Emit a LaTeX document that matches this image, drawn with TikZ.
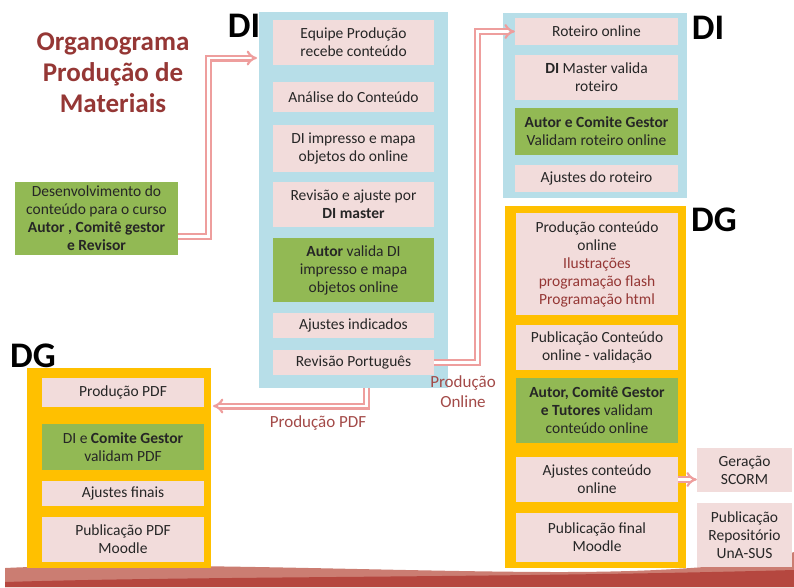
\documentclass[tikz,border=0pt]{standalone}
\usepackage{fontspec}
\setmainfont{Carlito}
\usepackage{tikz}
\usetikzlibrary{shapes}
\usetikzlibrary{arrows}
\definecolor{colblue}{HTML}{B7DEE8}
\definecolor{boxpink}{HTML}{F2DCDB}
\definecolor{boxgreen}{HTML}{92B954}
\definecolor{colorange}{HTML}{FFC000}
\definecolor{titlered}{HTML}{953735}
\definecolor{labelred}{HTML}{A34A48}
\definecolor{flowpink}{HTML}{EE9E9D}
\definecolor{bandlight}{HTML}{CB7D72}
\definecolor{banddark}{HTML}{B5473F}
\tikzset{
  pink node/.style={rectangle,fill=boxpink,align=center,inner sep=0pt,
    text=black!85,font=\fontsize{15.5}{18}\selectfont},
  green node/.style={pink node,fill=boxgreen},
  column/.style={rectangle,inner sep=0pt},
  big label/.style={font=\fontsize{36}{36}\selectfont\bfseries},
  flow label/.style={align=center,text=labelred,font=\fontsize{17}{20}\selectfont},
  flow/.style={draw=flowpink,line width=2.2pt,double=white,double distance=2.6pt}
}

\begin{document}
\begin{tikzpicture}[x=1pt,y=-1pt,>=implies]
  \useasboundingbox (0,0) rectangle (794,587);
  % bottom band
  \fill[bandlight]
    (5,568) .. controls (150,561) and (400,572) .. (560,572)
    .. controls (680,572) and (760,564) .. (794,552) -- (794,587) -- (5,587) -- cycle;
  \fill[banddark]
    (5,582) .. controls (200,576) and (500,578) .. (794,570) -- (794,587) -- (5,587) -- cycle;

  \node [align=center,text=titlered,font=\fontsize{27}{31}\selectfont\bfseries] (t) at (113,73)
    {Organograma\\Produção de\\Materiais};
  \node [green node,minimum width=163pt,minimum height=73pt] (0) at (96.5,218.5)
    {Desenvolvimento do\\conteúdo para o curso\\\textbf{Autor , Comitê gestor}\\\textbf{e Revisor}};

  % DI column
  \node [column,fill=colblue,minimum width=189pt,minimum height=376pt] (c1) at (353.5,200) {};
  \node [big label] (l1) at (244,26) {DI};
  \node [pink node,minimum width=161pt,minimum height=45pt] (1) at (353.5,42.5) {Equipe Produção\\recebe conteúdo};
  \node [pink node,minimum width=161pt,minimum height=30pt] (2) at (353.5,97) {Análise do Conteúdo};
  \node [pink node,minimum width=161pt,minimum height=47pt] (3) at (353.5,148.5) {DI impresso e mapa\\objetos do online};
  \node [pink node,minimum width=161pt,minimum height=45pt] (4) at (353.5,204.5) {Revisão e ajuste por\\\textbf{DI master}};
  \node [green node,minimum width=161pt,minimum height=64pt] (5) at (353.5,270) {\textbf{Autor} valida DI\\impresso e mapa\\objetos online};
  \node [pink node,minimum width=161pt,minimum height=25pt] (6) at (353.5,325.5) {Ajustes indicados};
  \node [pink node,minimum width=161pt,minimum height=25pt] (7) at (353.5,362.5) {Revisão Português};

  % DI online column
  \node [column,fill=colblue,minimum width=184pt,minimum height=185pt] (c2) at (595,105.5) {};
  \node [big label] (l2) at (708,28) {DI};
  \node [pink node,minimum width=163pt,minimum height=27pt] (8) at (596.5,31.5) {Roteiro online};
  \node [pink node,minimum width=163pt,minimum height=45pt] (9) at (596.5,77.5) {\textbf{DI} Master valida\\roteiro};
  \node [green node,minimum width=163pt,minimum height=47pt] (10) at (596.5,131.5) {\textbf{Autor e Comite Gestor}\\Validam roteiro online};
  \node [pink node,minimum width=163pt,minimum height=27pt] (11) at (596.5,178.5) {Ajustes do roteiro};

  % DG online column
  \node [column,fill=colorange,minimum width=181pt,minimum height=362pt] (c3) at (595.5,387) {};
  \node [big label] (l3) at (714,220) {DG};
  \node [pink node,minimum width=162pt,minimum height=102pt] (12) at (597,264)
    {Produção conteúdo\\online\\\textcolor{titlered}{Ilustrações}\\\textcolor{titlered}{programação flash}\\\textcolor{titlered}{Programação html}};
  \node [pink node,minimum width=162pt,minimum height=45pt] (13) at (597,347.5) {Publicação Conteúdo\\online - validação};
  \node [green node,minimum width=162pt,minimum height=65pt] (14) at (597,410.5) {\textbf{Autor, Comitê Gestor}\\\textbf{e Tutores} validam\\conteúdo online};
  \node [pink node,minimum width=162pt,minimum height=45pt] (15) at (597,479.5) {Ajustes conteúdo\\online};
  \node [pink node,minimum width=162pt,minimum height=49pt] (16) at (597,537.5) {Publicação final\\Moodle};
  \node [pink node,minimum width=95pt,minimum height=44pt] (17) at (744.5,470) {Geração\\SCORM};
  \node [pink node,minimum width=95pt,minimum height=64pt] (18) at (744.5,535) {Publicação\\Repositório\\UnA-SUS};

  % DG pdf column
  \node [column,fill=colorange,minimum width=184pt,minimum height=200pt] (c4) at (119,468) {};
  \node [big label] (l4) at (33,356) {DG};
  \node [pink node,minimum width=162pt,minimum height=29pt] (19) at (123,392.5) {Produção PDF};
  \node [green node,minimum width=162pt,minimum height=46pt] (20) at (123,447) {DI e \textbf{Comite Gestor}\\validam PDF};
  \node [pink node,minimum width=162pt,minimum height=25pt] (21) at (123,493.5) {Ajustes finais};
  \node [pink node,minimum width=162pt,minimum height=45pt] (22) at (123,539.5) {Publicação PDF\\Moodle};

  % connectors
  \coordinate (in1) at (257,58);
  \coordinate (pdf) at (213,406);
  \draw [flow,->] ([yshift=-18pt]0.east) -- ++(30,0) |- (in1);
  \draw [flow,->] ([xshift=13pt]c1.south) |- (pdf);
  \draw [flow,->] (7.east) -- ++(43,0) |- (8.west);
  \draw [flow,->] (15.east) -- (15.east -| 17.west);
  \node [flow label] (f1) at (318,423) {Produção PDF};
  \node [flow label] (f2) at (463,392) {Produção\\Online};
\end{tikzpicture}
\end{document}
